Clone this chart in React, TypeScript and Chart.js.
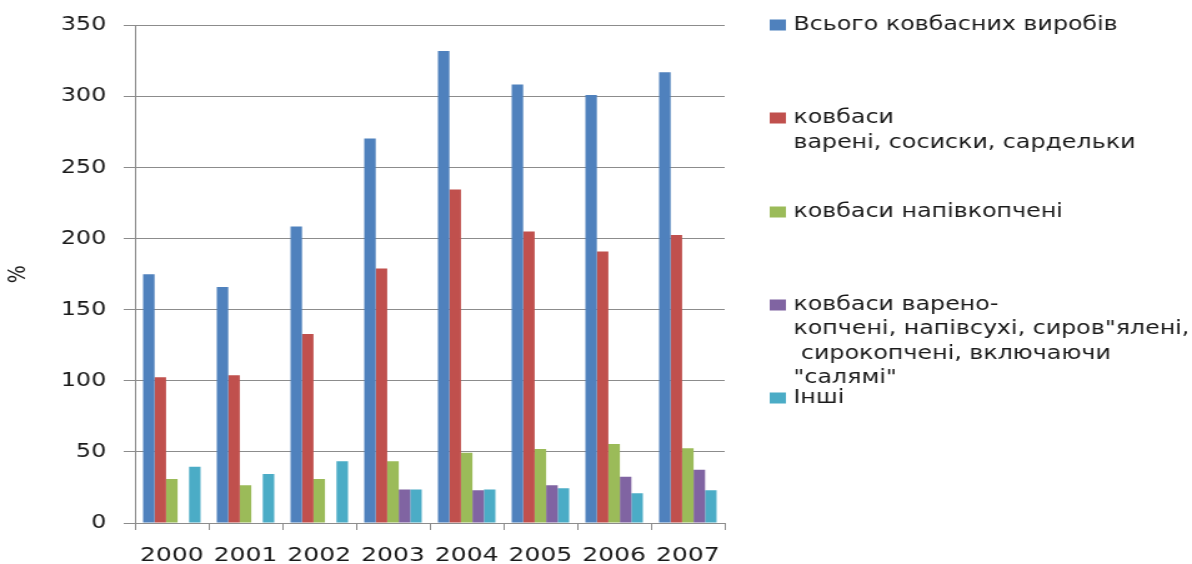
import React, { useEffect, useRef } from "react";
import { Chart, registerables } from "chart.js";

Chart.register(...registerables);

const years = ["2000", "2001", "2002", "2003", "2004", "2005", "2006", "2007"];
const totalSausages = [175, 166, 208.5, 270.5, 332, 308.5, 301, 317];
const boiledSausages = [102.5, 104, 133, 179, 234.5, 205, 191, 202.5];
const semiSmoked = [31, 26.5, 31, 43.5, 49.5, 52, 55.5, 52.5];
const boiledSmokedDry = [null, null, null, 23.5, 23, 26.5, 32.5, 37.5];
const otherSausages = [39.5, 34.5, 43.5, 23.5, 23.5, 24.5, 21, 23];

const seriesLines: string[][] = [
  ["Всього ковбасних виробів"],
  ["ковбаси", "варені, сосиски, сардельки"],
  ["ковбаси напівкопчені"],
  ["ковбаси варено-", "копчені, напівсухі, сиров\"ялені,", " сирокопчені, включаючи", "\"салямі\""],
  ["Інші"],
];
const seriesColors = ["#4F81BD", "#C0504D", "#9BBB59", "#8064A2", "#4BACC6"];
const yTicks = [0, 50, 100, 150, 200, 250, 300, 350];

const FONT = '"DejaVu Sans", Verdana, sans-serif';
const INNER_W = 954;
const INNER_H = 564;

const legendPlugin = {
  id: "customLegend",
  afterDraw(chart: any) {
    const ctx = chart.ctx;
    ctx.save();
    ctx.font = `19px ${FONT}`;
    ctx.textBaseline = "middle";
    ctx.textAlign = "left";
    const itemY = [25, 118, 212, 305, 398];
    const lineGap = [0, 25, 0, 24.5, 0];
    chart.data.datasets.forEach((ds: any, i: number) => {
      const y0 = itemY[i];
      ctx.fillStyle = ds.backgroundColor;
      ctx.fillRect(616, y0 - 5.5, 13, 11);
      ctx.fillStyle = "#1a1a1a";
      seriesLines[i].forEach((line, j) => {
        ctx.fillText(line, 635, y0 + j * lineGap[i]);
      });
    });
    ctx.restore();
  },
};

export default function App() {
  const ref = useRef<HTMLCanvasElement | null>(null);
  useEffect(() => {
    if (!ref.current) return;
    const series = [totalSausages, boiledSausages, semiSmoked, boiledSmokedDry, otherSausages];
    const chart = new Chart(ref.current, {
      type: "bar",
      data: {
        labels: years,
        datasets: series.map((d, i) => ({
          label: seriesLines[i].join(" "),
          data: d as any,
          backgroundColor: seriesColors[i],
          borderWidth: 0,
          categoryPercentage: 0.78,
          barPercentage: 1,
        })),
      },
      options: {
        responsive: false,
        maintainAspectRatio: false,
        animation: false,
        devicePixelRatio: 1,
        layout: { padding: { left: 0, right: INNER_W - 580, top: 23, bottom: 0 } },
        plugins: {
          legend: { display: false },
          tooltip: { enabled: false },
        },
        scales: {
          x: {
            grid: {
              display: true,
              drawOnChartArea: false,
              drawTicks: true,
              tickLength: 7,
              color: "#8c8c8c",
              offset: true,
            },
            border: { color: "#8c8c8c" },
            ticks: { font: { family: FONT, size: 20 }, color: "#1a1a1a", padding: 14 },
            afterFit(scale: any) {
              scale.height = 41;
            },
          },
          y: {
            min: 0,
            max: 350,
            afterBuildTicks(scale: any) {
              scale.ticks = yTicks.map((v) => ({ value: v }));
            },
            grid: { color: "#8c8c8c", tickLength: 9, drawTicks: true },
            border: { color: "#8c8c8c" },
            ticks: { font: { family: FONT, size: 19 }, color: "#1a1a1a", padding: 14 },
            title: {
              display: true,
              text: "%",
              font: { family: FONT, size: 19 },
              color: "#1a1a1a",
              padding: 4,
            },
            afterFit(scale: any) {
              scale.width = 108;
            },
          },
        },
      },
      plugins: [legendPlugin],
    });
    return () => chart.destroy();
  }, []);
  return (
    <div style={{ position: "fixed", left: 0, top: 0, width: 1192, height: 564, background: "#fff" }}>
      <canvas
        ref={ref}
        width={INNER_W}
        height={INNER_H}
        style={{ width: "1192px", height: "564px", display: "block" }}
      />
    </div>
  );
}
